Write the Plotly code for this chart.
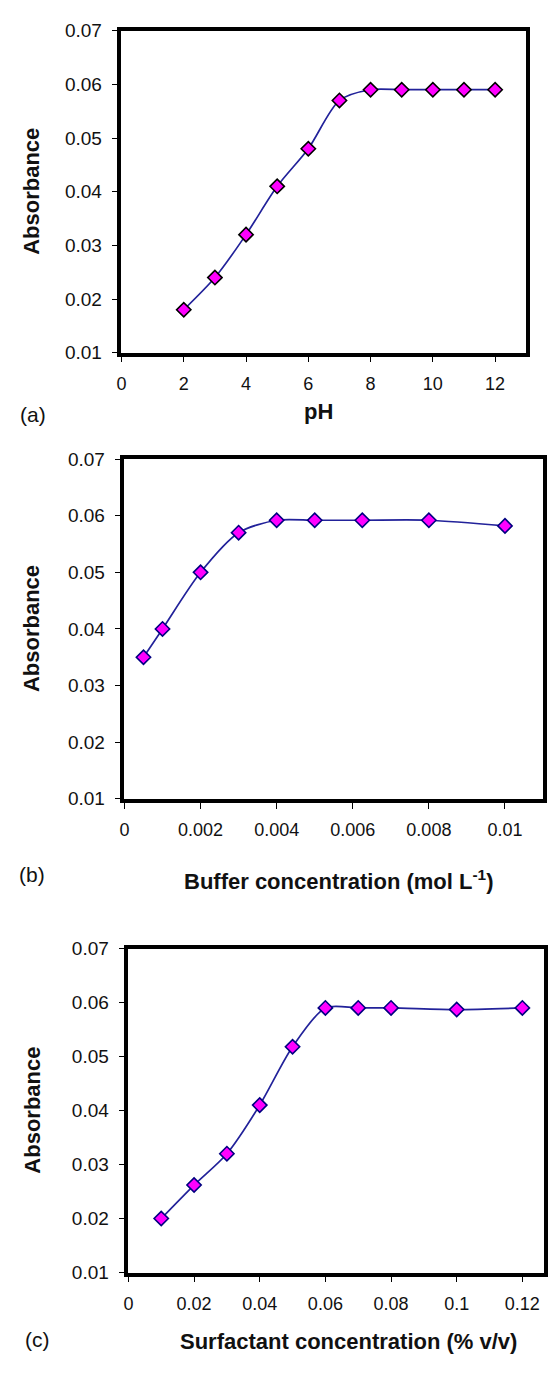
import plotly.graph_objects as go

# ---- data ----
ph = [2, 3, 4, 5, 6, 7, 8, 9, 10, 11, 12]
abs_ph = [0.018, 0.024, 0.032, 0.041, 0.048, 0.057, 0.059, 0.059, 0.059, 0.059, 0.059]

buffer_conc = [0.0005, 0.001, 0.002, 0.003, 0.004, 0.005, 0.00625, 0.008, 0.01]
abs_buffer = [0.035, 0.040, 0.050, 0.057, 0.0592, 0.0592, 0.0592, 0.0592, 0.0582]

surf_conc = [0.01, 0.02, 0.03, 0.04, 0.05, 0.06, 0.07, 0.08, 0.10, 0.12]
abs_surf = [0.020, 0.0262, 0.032, 0.041, 0.0518, 0.059, 0.059, 0.059, 0.0587, 0.059]

y_ticks = [0.01, 0.02, 0.03, 0.04, 0.05, 0.06, 0.07]
y_ticktext = ["0.01", "0.02", "0.03", "0.04", "0.05", "0.06", "0.07"]
ph_ticks = [0, 2, 4, 6, 8, 10, 12]
ph_ticktext = ["0", "2", "4", "6", "8", "10", "12"]
buf_ticks = [0, 0.002, 0.004, 0.006, 0.008, 0.01]
buf_ticktext = ["0", "0.002", "0.004", "0.006", "0.008", "0.01"]
surf_ticks = [0, 0.02, 0.04, 0.06, 0.08, 0.10, 0.12]
surf_ticktext = ["0", "0.02", "0.04", "0.06", "0.08", "0.1", "0.12"]

W, H = 548, 1381
FONT = "Liberation Sans, Arial, sans-serif"
LINE = "#22229a"
FILL = "#ff00ff"

def px_x(p):
    return p / W

def px_y(p):
    return 1 - p / H

fig = go.Figure()

def add_series(x, y, xa, ya, outline):
    fig.add_trace(go.Scatter(
        x=x, y=y, xaxis=xa, yaxis=ya, mode="lines+markers",
        line=dict(color=LINE, width=1.7, shape="spline", smoothing=0.8),
        marker=dict(symbol="diamond", size=11, color=FILL,
                    line=dict(color=outline, width=1.6)),
        showlegend=False, hoverinfo="skip"))

add_series(ph, abs_ph, "x", "y", "#000000")
add_series(buffer_conc, abs_buffer, "x2", "y2", "#000080")
add_series(surf_conc, abs_surf, "x3", "y3", "#000080")

def xaxis(domain, rng, tv, tt, anchor):
    return dict(domain=domain, range=rng, tickvals=tv, ticktext=tt, anchor=anchor,
                showgrid=False, zeroline=False, showline=True, linecolor="black",
                linewidth=3.5, mirror=True, ticks="outside", ticklen=6, tickwidth=1,
                tickcolor="black", ticklabelstandoff=6,
                tickfont=dict(family=FONT, size=18, color="#111"))

def yaxis(domain, anchor):
    return dict(domain=domain, range=[0.01, 0.07], tickvals=y_ticks, ticktext=y_ticktext,
                anchor=anchor, showgrid=False, zeroline=False, showline=True,
                linecolor="black", linewidth=3.5, mirror=True, ticks="outside",
                ticklen=6, tickwidth=1, tickcolor="black", ticklabelstandoff=6,
                tickfont=dict(family=FONT, size=19, color="#111"))

fig.update_layout(
    width=W, height=H, margin=dict(l=0, r=0, t=0, b=0, pad=0),
    paper_bgcolor="white", plot_bgcolor="white",
    xaxis=xaxis([px_x(118), px_x(528)], [0, 13], ph_ticks, ph_ticktext, "y"),
    yaxis=yaxis([px_y(348), px_y(21)], "x"),
    xaxis2=xaxis([px_x(121), px_x(545)], [0, 0.011], buf_ticks, buf_ticktext, "y2"),
    yaxis2=yaxis([px_y(801), px_y(456)], "x2"),
    xaxis3=xaxis([px_x(125), px_x(546)], [0, 0.1266], surf_ticks, surf_ticktext, "y3"),
    yaxis3=yaxis([px_y(1282), px_y(953)], "x3"),
)

def label(text, x, y, size=22, bold=True, angle=0):
    fig.add_annotation(
        text=f"<b>{text}</b>" if bold else text, xref="paper", yref="paper",
        x=px_x(x), y=px_y(y), xanchor="center", yanchor="middle",
        showarrow=False, textangle=angle,
        font=dict(family=FONT, size=size, color="#111"))

label("Absorbance", 27, 184, angle=-90)
label("Absorbance", 27, 628, angle=-90)
label("Absorbance", 27, 1117, angle=-90)
label("pH", 318, 408)
label("Buffer concentration (mol L<sup>-1</sup>)", 338, 883)
label("Surfactant concentration (% v/v)", 348, 1352)
label("(a)", 28, 411, size=21, bold=False)
label("(b)", 27, 878, size=21, bold=False)
label("(c)", 33, 1350, size=21, bold=False)

fig.write_html(
    "out.html",
    config={"displayModeBar": False},
    post_script="document.body.style.margin='0';document.body.style.overflow='hidden';",
)
